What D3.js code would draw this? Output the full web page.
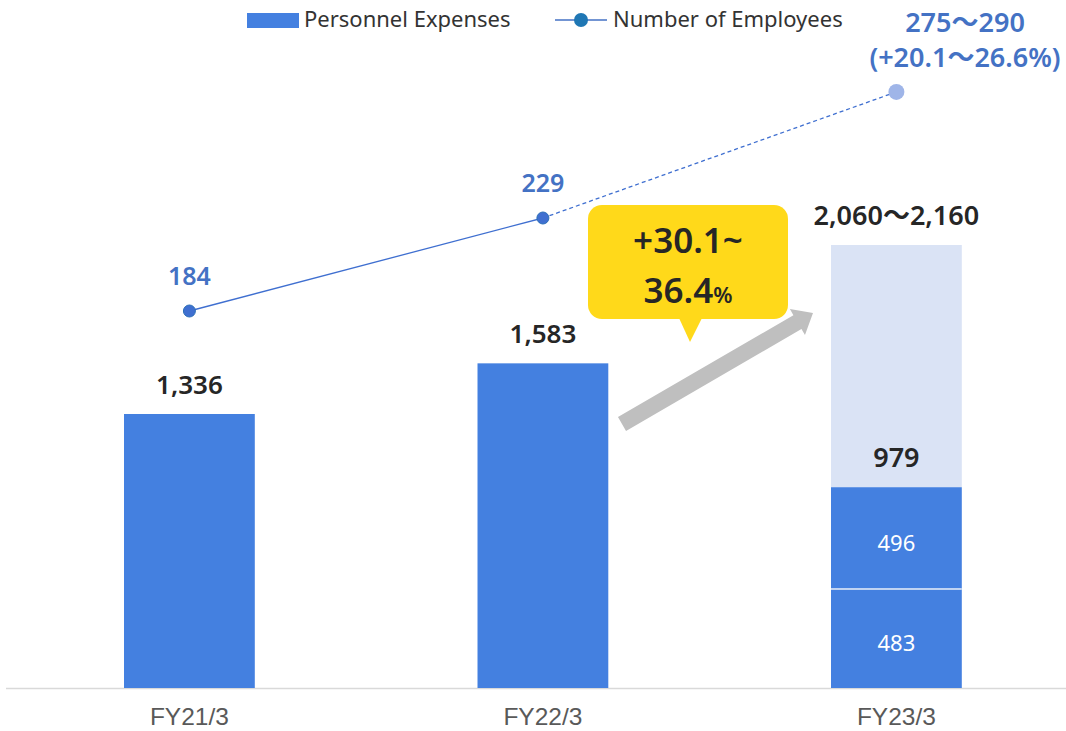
<!DOCTYPE html>
<html>
<head>
<meta charset="utf-8">
<script src="https://cdn.jsdelivr.net/npm/d3@7"></script>
<style>
  html, body { margin: 0; padding: 0; background: #fff; }
  svg { display: block; }
  text { font-family: "Noto Sans", "Noto Sans CJK JP", sans-serif; }
</style>
</head>
<body>
<svg id="chart" width="1066" height="731"></svg>
<script>
// ---- data ----
const categories = ["FY21/3", "FY22/3", "FY23/3"];
const expenses = [1336, 1583, null];
const expenseLabels = ["1,336", "1,583", "2,060〜2,160"];
const fy23Parts = [483, 496];          // stacked dark parts of FY23/3
const fy23Sum = 979;                    // label of the dark stack
const fy23Upper = 2160;                 // top of the plan range
const employees = [184, 229, 290];
const employeeLabels = ["184", "229", null];
const planEmployeeLabel = ["275〜290", "(+20.1〜26.6%)"];
const calloutLines = ["+30.1~", "36.4"];
const legendLabels = ["Personnel Expenses", "Number of Employees"];

// ---- setup ----
const svg = d3.select("#chart");
const W = 1066, H = 731;
const baseY = 688;

const x = d3.scaleBand().domain(categories).range([12.65, 1073.15]).paddingInner(0.63).paddingOuter(0.315);
const y = d3.scaleLinear().domain([0, 2160]).range([baseY, 245]);
const yE = d3.scaleLinear().domain([184, 229]).range([311, 218]);

const barBlue = "#4480E0";
const lightBlue = "#DAE3F5";
const lineBlue = "#3F6FD0";
const darkText = "#262626";

// axis line
svg.append("line").attr("x1", 6).attr("x2", W).attr("y1", baseY + 0.5).attr("y2", baseY + 0.5)
  .attr("stroke", "#D9D9D9").attr("stroke-width", 1.5);

// x-axis labels
svg.selectAll(".xlab").data(categories).enter().append("text")
  .attr("x", d => x(d) + x.bandwidth() / 2).attr("y", 725)
  .attr("text-anchor", "middle")
  .attr("font-size", 24.5).attr("fill", "#595959").style("font-family", "'Liberation Sans', sans-serif")
  .text(d => d);

// FY21, FY22 bars
const simple = categories.slice(0, 2).map((c, i) => ({ c, v: expenses[i] }));
svg.selectAll(".bar").data(simple).enter().append("rect")
  .attr("x", d => x(d.c)).attr("width", x.bandwidth())
  .attr("y", d => y(d.v)).attr("height", d => y(0) - y(d.v))
  .attr("fill", barBlue);

// FY23 upper light range
const c3 = categories[2];
svg.append("rect").attr("x", x(c3)).attr("width", x.bandwidth())
  .attr("y", y(fy23Upper)).attr("height", y(fy23Sum) - y(fy23Upper)).attr("fill", lightBlue);

// FY23 stacked dark parts
let acc = 0;
const stacks = fy23Parts.map(v => { const s = { v, y0: acc, y1: acc + v }; acc += v; return s; });
svg.selectAll(".stk").data(stacks).enter().append("rect")
  .attr("x", x(c3)).attr("width", x.bandwidth())
  .attr("y", d => y(d.y1)).attr("height", d => y(d.y0) - y(d.y1)).attr("fill", barBlue);
// separator
svg.append("line").attr("x1", x(c3)).attr("x2", x(c3) + x.bandwidth())
  .attr("y1", y(fy23Parts[0])).attr("y2", y(fy23Parts[0]))
  .attr("stroke", "#E8EEF9").attr("stroke-width", 1.5);
svg.selectAll(".stklab").data(stacks).enter().append("text")
  .attr("x", x(c3) + x.bandwidth() / 2).attr("y", d => (y(d.y0) + y(d.y1)) / 2 + 13)
  .attr("text-anchor", "middle").attr("font-size", 22).attr("fill", "#fff").text(d => d.v);
svg.append("text").attr("x", x(c3) + x.bandwidth() / 2).attr("y", y(fy23Sum) - 20)
  .attr("text-anchor", "middle").attr("font-size", 27).attr("font-weight", 600).attr("fill", darkText).text(fy23Sum);

// expense labels
const topVals = [expenses[0], expenses[1], fy23Upper];
svg.selectAll(".elab").data(categories).enter().append("text")
  .attr("x", d => x(d) + x.bandwidth() / 2).attr("y", (d, i) => y(topVals[i]) - 20)
  .attr("text-anchor", "middle").attr("font-size", (d, i) => i === 2 ? 27 : 26).attr("font-weight", 600).attr("fill", darkText)
  .text((d, i) => expenseLabels[i]);

// gray arrow (decoration)
(function () {
  const sx = 622, sy = 424, tx = 813, ty = 313;
  const dx = tx - sx, dy = ty - sy, L = Math.hypot(dx, dy);
  const ux = dx / L, uy = dy / L, nx = -uy, ny = ux;
  const sw = 8, hw = 15, hl = 18;
  const bx = tx - hl * ux, by = ty - hl * uy;
  const pts = [
    [sx + sw * nx, sy + sw * ny], [bx + sw * nx, by + sw * ny], [bx + hw * nx, by + hw * ny],
    [tx, ty], [bx - hw * nx, by - hw * ny], [bx - sw * nx, by - sw * ny], [sx - sw * nx, sy - sw * ny]
  ];
  svg.append("path").attr("d", d3.line()(pts) + "Z").attr("fill", "#BFBFBF");
})();

// callout (decoration)
const cb = { x: 588, y: 205, w: 200, h: 114, r: 14 };
svg.append("rect").attr("x", cb.x).attr("y", cb.y).attr("width", cb.w).attr("height", cb.h)
  .attr("rx", cb.r).attr("fill", "#FFD91A");
svg.append("path").attr("d", d3.line()([[679, cb.y + cb.h - 1], [702, cb.y + cb.h - 1], [690, 342]]) + "Z").attr("fill", "#FFD91A");
svg.append("text").attr("x", 688).attr("y", 253).attr("text-anchor", "middle")
  .attr("font-size", 35).attr("font-weight", 600).attr("fill", darkText).text(calloutLines[0]);
const t2 = svg.append("text").attr("x", 688).attr("y", 303).attr("text-anchor", "middle")
  .attr("font-size", 35).attr("font-weight", 600).attr("fill", darkText);
t2.append("tspan").text(calloutLines[1]);
t2.append("tspan").attr("font-size", 22).text("%");

// employees line
const pts = categories.map((c, i) => [x(c) + x.bandwidth() / 2, yE(employees[i])]);
svg.append("path").attr("d", d3.line()(pts.slice(0, 2))).attr("fill", "none")
  .attr("stroke", lineBlue).attr("stroke-width", 1.3);
svg.append("path").attr("d", d3.line()(pts.slice(1, 3))).attr("fill", "none")
  .attr("stroke", lineBlue).attr("stroke-width", 1.3).attr("stroke-dasharray", "4,3");
svg.append("circle").attr("cx", pts[2][0]).attr("cy", pts[2][1]).attr("r", 8).attr("fill", "#9FB5E8");
svg.selectAll(".dot").data(pts.slice(0, 2)).enter().append("circle")
  .attr("cx", d => d[0]).attr("cy", d => d[1]).attr("r", 6)
  .attr("fill", "#3F6FD0").attr("stroke", "#2C6FB8").attr("stroke-width", 1);
svg.selectAll(".emplab").data(pts.slice(0, 2)).enter().append("text")
  .attr("x", d => d[0]).attr("y", d => d[1] - 26)
  .attr("text-anchor", "middle").attr("font-size", 25).attr("font-weight", 600).attr("fill", "#4472C4")
  .text((d, i) => employeeLabels[i]);
svg.selectAll(".planlab").data(planEmployeeLabel).enter().append("text")
  .attr("x", 965).attr("y", (d, i) => 32 + i * 35)
  .attr("text-anchor", "middle").attr("font-size", 27).attr("font-weight", 600).attr("fill", "#4472C4")
  .text(d => d);

// legend
svg.append("rect").attr("x", 247).attr("y", 13).attr("width", 52).attr("height", 15).attr("fill", barBlue);
svg.append("text").attr("x", 304).attr("y", 27).attr("font-size", 22).attr("fill", "#333").text(legendLabels[0]);
svg.append("line").attr("x1", 555).attr("x2", 607).attr("y1", 20).attr("y2", 20).attr("stroke", "#4472C4").attr("stroke-width", 1.5);
svg.append("circle").attr("cx", 581).attr("cy", 20).attr("r", 7).attr("fill", "#1F77B4");
svg.append("text").attr("x", 613).attr("y", 27).attr("font-size", 22).attr("fill", "#333").text(legendLabels[1]);
</script>
</body>
</html>
